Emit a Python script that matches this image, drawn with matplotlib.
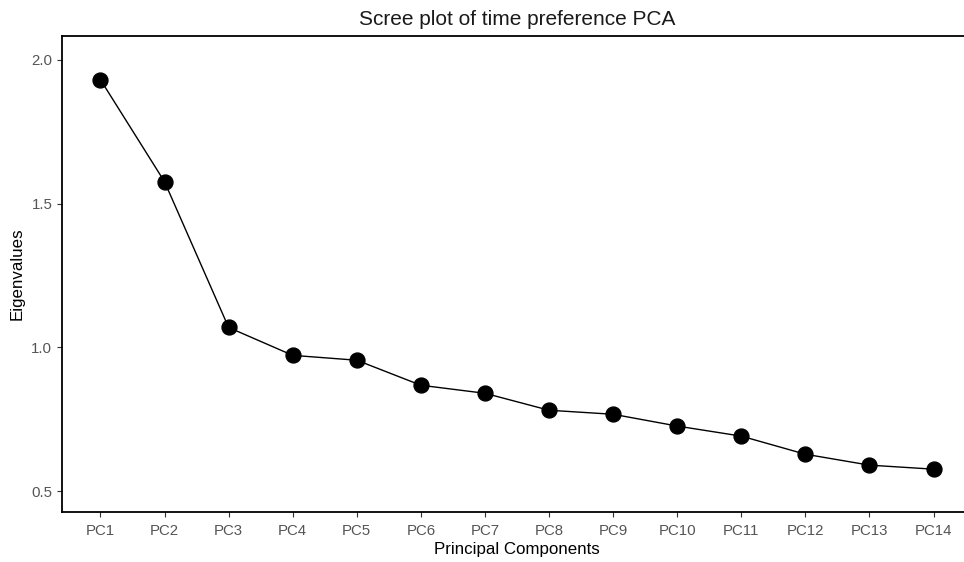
import matplotlib
matplotlib.use("Agg")
import matplotlib.pyplot as plt

components = ["PC1", "PC2", "PC3", "PC4", "PC5", "PC6", "PC7",
              "PC8", "PC9", "PC10", "PC11", "PC12", "PC13", "PC14"]
eigenvalues = [1.931, 1.576, 1.069, 0.972, 0.955, 0.868, 0.840,
               0.781, 0.767, 0.726, 0.691, 0.628, 0.590, 0.576]
yticks = [0.5, 1.0, 1.5, 2.0]

plt.rcParams["font.family"] = ["Liberation Sans", "DejaVu Sans"]

fig = plt.figure(figsize=(9.64, 5.62), dpi=100)
ax = fig.add_axes([62 / 964, 1 - 512 / 562, 910 / 964, 476 / 562])

x = list(range(len(components)))
ax.plot(x, eigenvalues, color="black", linewidth=1.0, zorder=2)
ax.scatter(x, eigenvalues, s=115, color="black", zorder=3)

ax.set_xlim(-0.6, len(components) - 1 + 0.6)
ax.set_ylim(0.427, 2.083)
ax.set_xticks(x)
ax.set_xticklabels(components)
ax.set_yticks(yticks)
ax.set_yticklabels([f"{v:.1f}" for v in yticks])

ax.tick_params(colors="#333333", labelcolor="#555555", labelsize=10.8, length=3.5, width=0.8)
ax.tick_params(axis="x", pad=5)
for s in ax.spines.values():
    s.set_linewidth(1.3)
    s.set_color("black")

ax.set_xlabel("Principal Components", fontsize=12.2, color="black", labelpad=3)
ax.set_ylabel("Eigenvalues", fontsize=12.2, color="black", labelpad=5)
ax.set_title("Scree plot of time preference PCA", fontsize=15, color="#1a1a1a", pad=8)

fig.savefig("out.png", dpi=100)
